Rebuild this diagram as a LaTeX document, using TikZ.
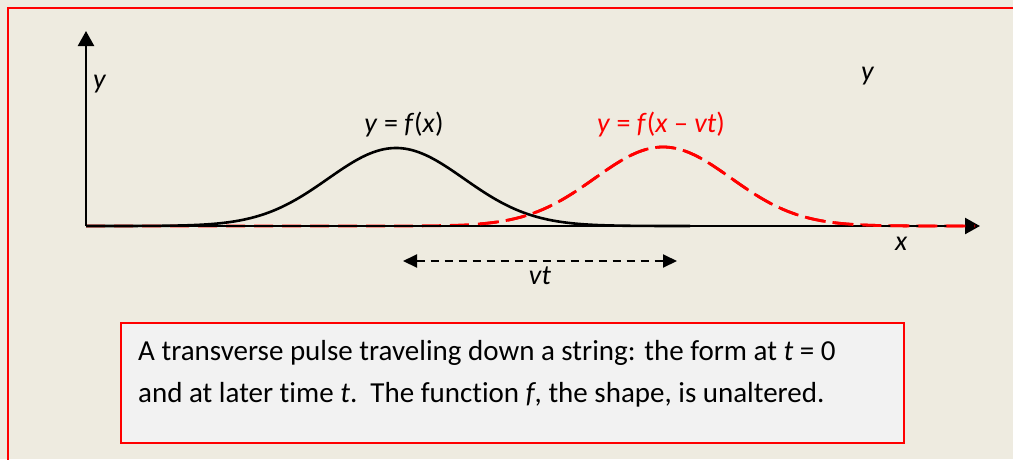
\documentclass[tikz,border=0pt]{standalone}
\usepackage{fontspec}
\setmainfont[Ligatures={NoCommon}]{Carlito}
\usetikzlibrary{arrows.meta}
\definecolor{bg}{HTML}{EEEBE0}
\definecolor{boxfill}{HTML}{F2F2F2}
\tikzset{
  axis/.style={line width=2.4pt,-{Triangle[length=15pt,width=16pt]}},
  lbl/.style={font=\fontsize{28}{32}\selectfont,inner sep=0pt},
  captext/.style={font=\fontsize{29}{34}\selectfont,inner sep=0pt},
  pulse/.style={line width=2.6pt},
  movedpulse/.style={line width=2.8pt,red,dash pattern=on 19pt off 9pt},
  shiftarrow/.style={line width=2pt,dash pattern=on 8pt off 6pt,{Triangle[length=14pt,width=13pt]}-{Triangle[length=14pt,width=13pt]}},
}
\begin{document}
\begin{tikzpicture}[x=1pt,y=-1pt]
\useasboundingbox (0,0) rectangle (1013,459);
\fill[bg] (0,0) rectangle (1013,459);
\draw[red,line width=2pt] (8,480) -- (8,7.5) -- (1030,7.5);
% axes
\coordinate (O) at (86,226);
\coordinate (ytip) at (86,31);
\coordinate (xtip) at (980,226);
\draw[movedpulse] plot[domain=86:975,samples=200] (\x,{226-79*exp(-0.5*((\x-663)/68)^2)});
\draw[axis] (O) -- (ytip);
\draw[axis] (O) -- (xtip);
\draw[pulse] plot[domain=86:690,samples=200] (\x,{226-78*exp(-0.5*((\x-396)/68)^2)});
\draw[movedpulse] plot[domain=480:975,samples=150] (\x,{226-79*exp(-0.5*((\x-663)/68)^2)});
\node[lbl,anchor=base west] (ylab) at (93,88) {\textit{y}};
\node[lbl,anchor=base west] (ylab2) at (861,80) {\textit{y}};
\node[lbl,anchor=base west] (xlab) at (895,250) {\textit{x}};
\node[lbl,anchor=base] (fx) at (404,132) {\textit{y} = \textit{f}(\textit{x})};
\node[lbl,anchor=base,text=red] (fxvt) at (661,132) {\textit{y} = \textit{f}(\textit{x} – \textit{vt})};
% shift arrow
\coordinate (sa) at (403,261);
\coordinate (sb) at (677,261);
\draw[shiftarrow] (sa) -- (sb);
\node[lbl,anchor=base] (vt) at (540,284) {\textit{vt}};
% caption
\node[draw=red,line width=1.6pt,fill=boxfill,minimum width=783pt,minimum height=120pt,anchor=north west,inner sep=0pt] (cap) at (120,322) {};
\node[captext,anchor=base west,align=left] (c1) at (138,360) {A transverse pulse traveling down a string: the form at \textit{t} = 0};
\node[captext,anchor=base west,align=left] (c2) at (138,402) {and at later time \textit{t}.\ \ The function \textit{f}, the shape, is unaltered.};
\end{tikzpicture}
\end{document}
